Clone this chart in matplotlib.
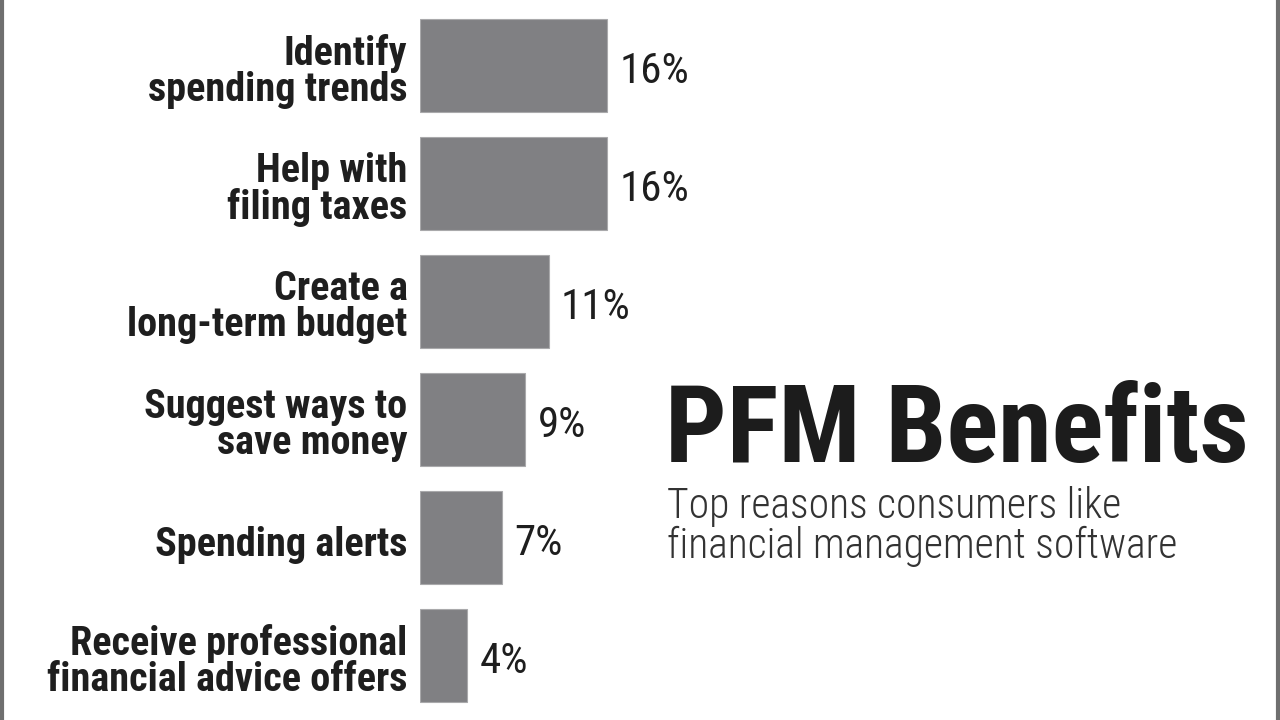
import matplotlib
matplotlib.use('Agg')
import matplotlib.pyplot as plt
from matplotlib.lines import Line2D
from matplotlib.transforms import ScaledTranslation

# data
categories = ['Identify\nspending trends',
              'Help with\nfiling taxes',
              'Create a\nlong-term budget',
              'Suggest ways to\nsave money',
              'Spending alerts',
              'Receive professional\nfinancial advice offers']
values = [16, 16, 11, 9, 7, 4]
title = 'PFM Benefits'
subtitle = 'Top reasons consumers like\nfinancial management software'

plt.rcParams['font.family'] = ['Roboto Condensed', 'DejaVu Sans']

W, H = 1280, 720
fig = plt.figure(figsize=(W / 100, H / 100), dpi=100)
fig.patch.set_facecolor('white')

# axes: left edge at bar base (x=420 px), full height
ax_left, ax_right = 420, 1280
ax = fig.add_axes([ax_left / W, 0, (ax_right - ax_left) / W, 1])
px_per_unit = 187 / 16
ax.set_xlim(0, (ax_right - ax_left) / px_per_unit)

step = 118.0
first = 65.5
ax.set_ylim((H - first) / step, -first / step)

pos = list(range(len(values)))
bars = ax.barh(pos, values, height=93 / step, color='#808083',
               edgecolor='#a9a9ab', linewidth=0.8)

ax.set_yticks(pos)
ax.set_yticklabels(categories, fontsize=29, fontweight='bold', color='#1e1e1e',
                   linespacing=0.93)
ax.tick_params(axis='y', length=0, pad=9)
# labels sit a touch below the bar centre
shift = ScaledTranslation(0, -3 / 100, fig.dpi_scale_trans)
for lbl in ax.get_yticklabels():
    lbl.set_transform(lbl.get_transform() + shift)
ax.set_xticks([])
for s in ax.spines.values():
    s.set_visible(False)
ax.patch.set_alpha(0)

for p, v in zip(pos, values):
    ax.annotate(f'{v}%', xy=(v, p), xytext=(9, -4), textcoords='offset points',
                ha='left', va='center', fontsize=31, color='#1e1e1e')

fig.text(665 / W, 1 - 462 / H, title, fontsize=78, fontweight='bold',
         color='#1c1c1c', ha='left', va='baseline')
fig.text(667 / W, 1 - 558 / H, subtitle, fontsize=30, fontweight='light',
         color='#333333', ha='left', va='baseline', linespacing=0.95)

# thin grey frame lines on the left and right edges
fig.add_artist(Line2D([2 / W, 2 / W], [0, 1], color='#6f6f6f', lw=3,
                      transform=fig.transFigure))
fig.add_artist(Line2D([1278 / W, 1278 / W], [0, 1], color='#6f6f6f', lw=3,
                      transform=fig.transFigure))

fig.savefig('out.png', dpi=100)
